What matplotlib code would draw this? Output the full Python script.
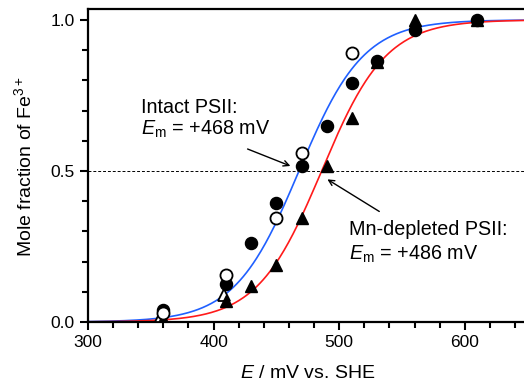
import numpy as np
import matplotlib
matplotlib.use("Agg")
import matplotlib.pyplot as plt
from matplotlib.ticker import MultipleLocator

plt.rcParams['font.family'] = ['Liberation Sans', 'DejaVu Sans']
plt.rcParams['mathtext.fontset'] = 'custom'
plt.rcParams['mathtext.rm'] = 'Liberation Sans'
plt.rcParams['mathtext.it'] = 'Liberation Sans:italic'

# data
em_intact = 468
em_mn = 486
open_circ_x = [360, 410, 450, 470, 510]
open_circ_y = [0.03, 0.155, 0.345, 0.56, 0.89]
fill_circ_x = [360, 410, 430, 450, 470, 490, 510, 530, 560, 610]
fill_circ_y = [0.04, 0.125, 0.26, 0.395, 0.515, 0.65, 0.79, 0.865, 0.965, 1.0]
fill_tri_x = [360, 410, 430, 450, 470, 490, 510, 530, 560, 610]
fill_tri_y = [0.01, 0.07, 0.12, 0.19, 0.345, 0.515, 0.675, 0.86, 1.0, 1.0]
open_tri_x = [358, 408]
open_tri_y = [0.02, 0.09]


def nernst(e, em, n=1):
    return 1.0 / (1.0 + 10 ** ((em - e) * n / 59.0))


fig = plt.figure(figsize=(5.24, 3.86), dpi=100)
ax = fig.add_axes([88/524, 64/386, 439.6/524, 313/386])

e = np.linspace(300, 650, 400)
ax.plot(e, nernst(e, em_intact), color='#2060ff', lw=1.2, zorder=2)
ax.plot(e, nernst(e, em_mn), color='#ff1a1a', lw=1.2, zorder=2)
ax.axhline(0.5, color='black', lw=0.7, ls=(0, (3, 2)), zorder=1)

ms = 8.7
ax.plot(open_tri_x, open_tri_y, '^', ms=ms, mfc='white', mec='black', mew=1.3, ls='none', zorder=3)
ax.plot(fill_tri_x, fill_tri_y, '^', ms=ms, mfc='black', mec='black', ls='none', zorder=3)
ax.plot(fill_circ_x, fill_circ_y, 'o', ms=ms, mfc='black', mec='black', ls='none', zorder=4)
ax.plot(open_circ_x, open_circ_y, 'o', ms=ms, mfc='white', mec='black', mew=1.3, ls='none', zorder=4)

fs = 14.2
ax.text(342, 0.692, 'Intact PSII:', fontsize=fs, va='baseline')
ax.text(342, 0.619, r'$E_{\mathrm{m}}$ = +468 mV', fontsize=fs, va='baseline')
ax.annotate('', xy=(463.2, 0.513), xytext=(425, 0.576),
            arrowprops=dict(arrowstyle='->', color='black', lw=1))
ax.text(507.8, 0.288, 'Mn-depleted PSII:', fontsize=fs, va='baseline')
ax.text(507.8, 0.205, r'$E_{\mathrm{m}}$ = +486 mV', fontsize=fs, va='baseline')
ax.annotate('', xy=(488.7, 0.477), xytext=(533.8, 0.361),
            arrowprops=dict(arrowstyle='->', color='black', lw=1))

ax.set_xlim(300, 650)
ax.set_ylim(0, 1.036)
ax.set_xticks([300, 400, 500, 600])
ax.set_yticks([0.0, 0.5, 1.0])
ax.set_yticklabels(['0.0', '0.5', '1.0'])
ax.xaxis.set_minor_locator(MultipleLocator(20))
ax.yaxis.set_minor_locator(MultipleLocator(0.1))
ax.tick_params(which='both', direction='out', width=1.5, labelsize=12.5)
ax.tick_params(which='major', length=6)
ax.tick_params(which='minor', length=4)
for s in ['left', 'bottom', 'top']:
    ax.spines[s].set_linewidth(1.6)
ax.spines['right'].set_visible(False)

ax.set_xlabel(r'$E$ / mV vs. SHE', fontsize=14, labelpad=11)
ax.set_ylabel(r'Mole fraction of Fe$^{3+}$', fontsize=14)
ax.yaxis.set_label_coords(-0.12, 0.495)

fig.savefig('out.png', dpi=100)
